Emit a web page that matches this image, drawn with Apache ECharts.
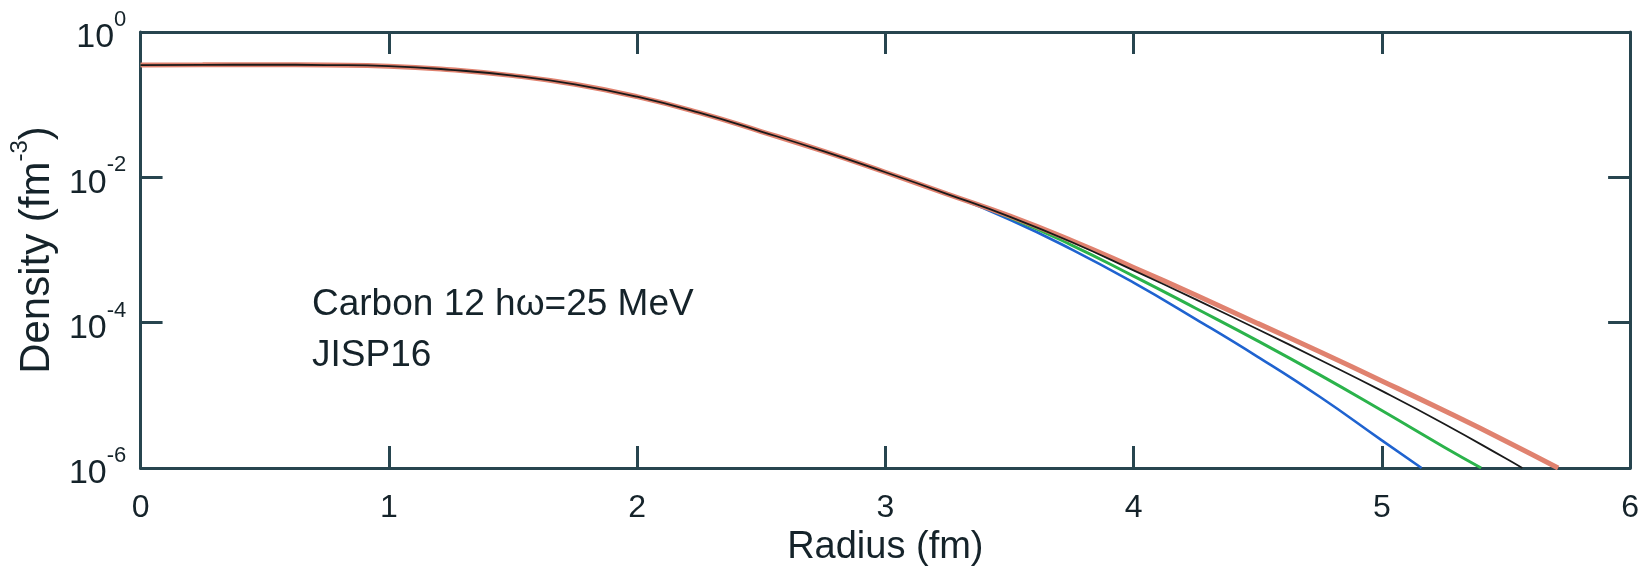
<!DOCTYPE html>
<html>
<head>
<meta charset="utf-8">
<script src="https://cdn.jsdelivr.net/npm/echarts@6/dist/echarts.min.js"></script>
<style>
html,body{margin:0;padding:0;background:#fff;}
#chart{width:1642px;height:574px;}
</style>
</head>
<body>
<div id="chart"></div>
<script>
// ---- data (radius in fm, density in fm^-3) ----
const xTickLabels = ['0', '1', '2', '3', '4', '5', '6'];
const yTickExponents = ['0', '-2', '-4', '-6'];

// common part, all four curves overlap
const coreRadius  = [0, 0.25, 0.5, 0.75, 1.0, 1.25, 1.5, 1.75, 2.0, 2.25, 2.5, 2.75, 3.0, 3.25];
const coreDensity = [0.351, 0.353, 0.355, 0.351, 0.339, 0.302, 0.251, 0.1905, 0.1288, 0.0776, 0.0427, 0.0229, 0.01175, 0.00589];

// tails
const redRadius    = [3.5, 3.75, 4.0, 4.25, 4.5, 4.75, 5.0, 5.25, 5.5, 5.71];
const redDensity   = [2.95e-3, 1.35e-3, 5.75e-4, 2.40e-4, 9.77e-5, 3.98e-5, 1.58e-5, 6.17e-6, 2.34e-6, 1.0e-6];
const blackRadius  = [3.5, 3.75, 4.0, 4.25, 4.5, 4.75, 5.0, 5.25, 5.5, 5.566];
const blackDensity = [2.88e-3, 1.29e-3, 5.25e-4, 2.09e-4, 8.13e-5, 3.09e-5, 1.15e-5, 4.07e-6, 1.35e-6, 1.0e-6];
const greenRadius  = [3.5, 3.75, 4.0, 4.25, 4.5, 4.75, 5.0, 5.25, 5.4];
const greenDensity = [2.82e-3, 1.17e-3, 4.37e-4, 1.58e-4, 5.62e-5, 1.91e-5, 6.17e-6, 1.95e-6, 1.0e-6];
const blueRadius   = [3.5, 3.75, 4.0, 4.25, 4.5, 4.75, 5.0, 5.16];
const blueDensity  = [2.63e-3, 1.02e-3, 3.55e-4, 1.12e-4, 3.39e-5, 9.55e-6, 2.40e-6, 1.0e-6];

function build(tr, td) {
  const out = [];
  coreRadius.forEach((r, i) => out.push([r, coreDensity[i]]));
  tr.forEach((r, i) => out.push([r, td[i]]));
  return out;
}

const frame = '#27454f';
const txt = '#15232a';
const FONT = 'Liberation Sans';

const chart = echarts.init(document.getElementById('chart'), null, {renderer: 'canvas'});

function xAxisDef(pos, extra) {
  return Object.assign({
    type: 'value', min: 0, max: 6, interval: 1, position: pos,
    axisLine: {show: true, onZero: false, lineStyle: {color: frame, width: 3}},
    axisTick: {show: true, inside: true, length: 22, lineStyle: {color: frame, width: 3}},
    splitLine: {show: false}
  }, extra);
}
function yAxisDef(pos, extra) {
  return Object.assign({
    type: 'log', logBase: 10, min: 1e-6, max: 1, interval: 2, splitNumber: 3, position: pos,
    axisLine: {show: true, onZero: false, lineStyle: {color: frame, width: 3}},
    axisTick: {show: true, inside: true, length: 22, lineStyle: {color: frame, width: 3}},
    minorTick: {show: false},
    splitLine: {show: false}
  }, extra);
}

const option = {
  backgroundColor: '#ffffff',
  animation: false,
  grid: {left: 138, right: 7, top: 32, bottom: 106, containLabel: false},
  xAxis: [
    xAxisDef('bottom', {
      name: 'Radius (fm)', nameLocation: 'middle', nameGap: 48,
      nameTextStyle: {fontFamily: FONT, fontSize: 38, color: txt},
      axisLabel: {
        show: true, margin: 24, fontFamily: FONT, fontSize: 32, color: txt,
        formatter: v => xTickLabels[Math.round(v)] || ''
      }
    }),
    xAxisDef('top', {axisLabel: {show: false}})
  ],
  yAxis: [
    yAxisDef('left', {
      name: '{n|Density (fm}{s|-3}{n|)}', nameLocation: 'middle', nameGap: 71, nameRotate: 90,
      nameTextStyle: {
        fontFamily: FONT, color: txt,
        rich: {
          n: {fontFamily: FONT, fontSize: 42, color: txt, lineHeight: 50, verticalAlign: 'bottom'},
          s: {fontFamily: FONT, fontSize: 24, color: txt, lineHeight: 24, verticalAlign: 'top'}
        }
      },
      axisLabel: {
        show: true, margin: 14, color: txt,
        formatter: v => {
          const e = String(Math.round(Math.log10(v)));
          return yTickExponents.indexOf(e) >= 0 ? '{b|10}{s|' + e + '}{p| }' : '';
        },
        rich: {
          b: {fontFamily: FONT, fontSize: 34, color: txt, lineHeight: 34, verticalAlign: 'bottom'},
          s: {fontFamily: FONT, fontSize: 22, color: txt, lineHeight: 22, verticalAlign: 'top'},
          p: {fontFamily: FONT, fontSize: 1, color: txt, lineHeight: 46}
        }
      }
    }),
    yAxisDef('right', {axisLabel: {show: false}})
  ],
  graphic: [
    {type: 'text', left: 312, top: 286, style: {text: 'Carbon 12 hω=25 MeV', font: '37px "Liberation Sans"', fill: txt}},
    {type: 'text', left: 312, top: 337, style: {text: 'JISP16', font: '37px "Liberation Sans"', fill: txt}}
  ],
  series: [
    {type: 'line', name: 'blue', data: build(blueRadius, blueDensity), smooth: true, symbol: 'none',
     lineStyle: {color: '#1f63d0', width: 2.6}, z: 2},
    {type: 'line', name: 'green', data: build(greenRadius, greenDensity), smooth: true, symbol: 'none',
     lineStyle: {color: '#2bb34b', width: 3}, z: 3},
    {type: 'line', name: 'red', data: build(redRadius, redDensity), smooth: true, symbol: 'none',
     lineStyle: {color: '#e0826f', width: 5}, z: 4},
    {type: 'line', name: 'black', data: build(blackRadius, blackDensity), smooth: true, symbol: 'none',
     lineStyle: {color: '#1a1a1a', width: 1.8}, z: 5}
  ]
};
chart.setOption(option);
</script>
</body>
</html>
